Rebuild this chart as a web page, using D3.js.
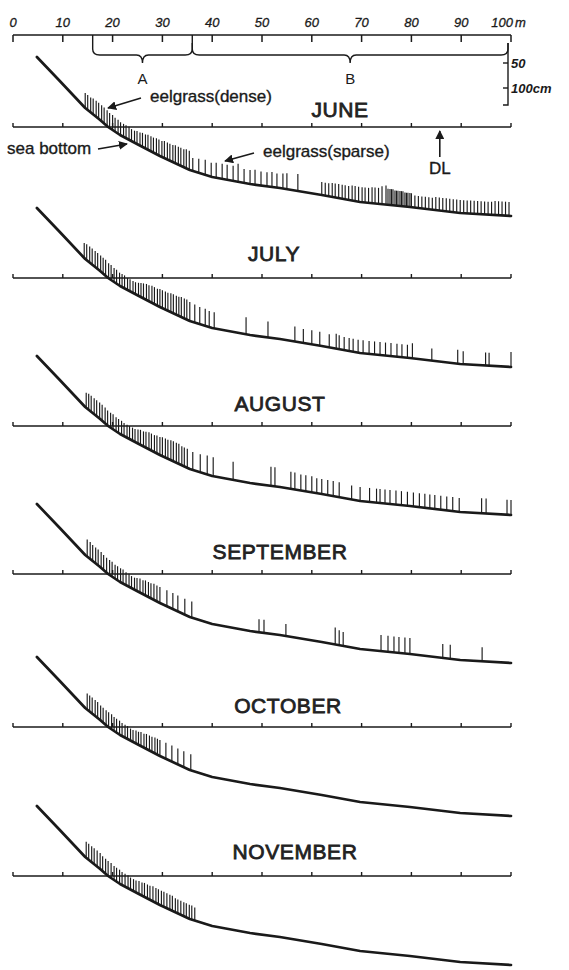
<!DOCTYPE html>
<html>
<head>
<meta charset="utf-8">
<script src="https://cdn.jsdelivr.net/npm/d3@7"></script>
<style>
  html, body { margin: 0; padding: 0; background: #fff; }
  svg { display: block; }
</style>
</head>
<body>
<svg id="fig" width="569" height="970"></svg>
<script>
// ---- distance scale (m) ----
const distTicks = [0, 10, 20, 30, 40, 50, 60, 70, 80, 90, 100];
const distTickLabels = ["0", "10", "20", "30", "40", "50", "60", "70", "80", "90", "100"];
const zoneNames = ["A", "B"];
const zoneStart = [16, 36];
const zoneEnd = [36, 99.4];
const depthTicks = [50, 100];
const depthTickLabels = ["50", "100cm"];

// ---- sea-bottom profile: distance (m) vs depth below datum line (cm) ----
const profileDist  = [4.8, 9.4, 14.5, 17.5, 19.1, 21.5, 24.9, 29.5, 35.5, 40.0, 47.6, 53.6, 62.0, 69.7, 79.7, 89.8, 100];
const profileDepth = [-140, -92, -38, -14, 0, 16, 34, 58, 86, 100, 114, 122, 136, 150, 160, 172, 178];

const months = ["JUNE", "JULY", "AUGUST", "SEPTEMBER", "OCTOBER", "NOVEMBER"];
const dlPosition = 85.7;

// ---- eelgrass shoots: position (m) and shoot length (cm) ----
const junePos = [14.5, 15.0, 15.6, 16.1, 16.7, 17.2, 17.8, 18.3, 18.9, 19.4, 20.0, 20.5, 21.1, 21.6, 22.2, 22.7, 23.3,
  23.8, 24.4, 24.9, 25.5, 26.0, 26.6, 27.1, 27.7, 28.2, 28.8, 29.3, 29.9, 30.4, 31.0, 31.5, 32.1, 32.6, 33.2, 33.7, 34.3, 34.8, 35.4,
  36.1, 37.3, 38.6, 39.8, 40.8, 42.0, 43.0, 44.2, 45.2, 46.4, 47.6, 48.6, 49.8, 51.0, 52.0, 53.0, 54.2, 55.0, 57.2,
  62.0, 62.7, 63.4, 64.1, 64.7, 65.4, 66.1, 66.7, 67.4, 68.1, 68.7, 69.4, 70.1, 70.7, 71.4, 72.1, 72.7, 73.4, 74.1,
  74.9, 75.3, 75.7, 76.0, 76.3, 76.7, 77.0, 77.3, 77.7, 78.0, 78.3, 78.7, 79.0, 79.3, 79.7, 80.0,
  80.7, 81.4, 82.1, 82.8, 83.5, 84.2, 84.9, 85.6, 86.3, 87.0, 87.7, 88.4, 89.1, 89.8, 90.5, 91.2, 91.9, 92.6, 93.3, 94.0,
  94.7, 95.4, 96.1, 96.8, 97.5, 98.2, 98.9, 99.6];
const juneLen = [30, 30, 30, 32, 32, 32, 32, 32, 32, 30, 30, 28, 28, 26, 26, 26, 26,
  24, 24, 26, 26, 28, 28, 30, 30, 30, 32, 32, 32, 34, 34, 34, 34, 36, 36, 36, 36, 38, 38,
  26, 28, 30, 28, 30, 30, 30, 30, 36, 28, 28, 30, 28, 28, 30, 28, 30, 32, 34,
  26, 26, 26, 28, 28, 28, 28, 28, 28, 30, 30, 30, 30, 30, 30, 32, 32, 32, 36,
  38, 32, 32, 32, 32, 30, 30, 30, 30, 30, 30, 28, 28, 28, 28, 28,
  24, 24, 24, 24, 24, 24, 26, 26, 26, 26, 26, 26, 26, 26, 26, 26, 26, 26, 26, 26,
  26, 26, 26, 28, 28, 28, 28, 28];

const julyPos = [14.3, 14.8, 15.4, 15.9, 16.5, 17.0, 17.6, 18.1, 18.6, 19.2, 19.7, 20.3, 20.8, 21.4, 21.9, 22.4, 23.0, 23.5, 24.1,
  24.6, 25.2, 25.7, 26.2, 26.8, 27.3, 27.9, 28.4, 29.0, 29.5, 30.0, 30.6, 31.1, 31.7, 32.2, 32.8, 33.3, 33.8, 34.4, 34.9, 35.5,
  36.5, 37.5, 38.6, 39.4, 40.4,
  46.8, 51.2, 56.6, 58.3, 60.0, 61.6, 63.5, 64.9, 65.5, 66.5, 67.5, 68.3, 69.3, 70.3, 71.5, 72.6, 73.7, 74.8, 75.9, 77.1,
  78.1, 79.2, 80.2, 84.1, 89.3, 90.4, 94.9, 95.6, 100];
const julyLen = [30, 32, 32, 32, 32, 32, 32, 32, 32, 30, 30, 28, 28, 26, 26, 26, 24, 24, 24,
  24, 26, 28, 30, 32, 32, 34, 34, 34, 36, 36, 36, 36, 38, 38, 38, 38, 40, 40, 40, 38,
  36, 34, 34, 32, 32,
  34, 32, 30, 28, 28, 28, 26, 30, 28, 26, 26, 26, 26, 26, 26, 26, 26, 26, 26, 26,
  26, 26, 30, 24, 28, 26, 26, 26, 30];

const augustPos = [14.7, 15.2, 15.7, 16.3, 16.8, 17.4, 17.9, 18.5, 19.0, 19.6, 20.1, 20.7, 21.2, 21.8, 22.3, 22.9, 23.4, 24.0,
  24.5, 25.1, 25.6, 26.2, 26.7, 27.3, 27.8, 28.4, 28.9, 29.5, 30.0, 30.6, 31.1, 31.7, 32.2, 32.8, 33.3, 33.9, 34.4, 35.0,
  36.1, 37.6, 39.0, 40.2,
  44.2, 51.8, 52.6, 55.8, 56.6, 57.8, 58.8, 60.0, 61.0, 62.0, 63.2, 64.3, 65.5, 68.0, 69.7, 71.6, 73.0, 73.7, 74.7, 75.7,
  76.9, 78.0, 79.2, 80.4, 81.6, 82.7, 83.7, 84.7, 85.9, 87.1, 88.3, 89.6, 94.1, 95.0, 99.2, 100];
const augustLen = [30, 32, 32, 32, 32, 32, 32, 32, 30, 30, 30, 28, 28, 28, 26, 26, 26, 26,
  26, 28, 30, 30, 32, 34, 34, 34, 36, 36, 38, 38, 38, 40, 40, 40, 40, 38, 38, 38,
  36, 36, 38, 38,
  36, 38, 38, 34, 34, 32, 32, 32, 30, 30, 30, 30, 30, 28, 28, 28, 28, 28, 28, 28,
  28, 28, 28, 28, 28, 28, 28, 28, 28, 28, 28, 28, 30, 30, 30, 30];

const septemberPos = [14.9, 15.5, 16.0, 16.6, 17.1, 17.7, 18.2, 18.8, 19.4, 19.9, 20.5, 21.0, 21.6, 22.1, 22.7, 23.3,
  23.8, 24.4, 24.9, 25.5, 26.1, 26.6, 27.2, 27.7, 28.3, 28.9,
  29.5, 30.9, 32.1, 33.1, 34.5, 35.9,
  49.4, 50.4, 54.8, 64.7, 65.5, 66.3, 73.9, 75.3, 76.5, 77.5, 78.7, 79.7, 86.3, 87.8, 94.2];
const septemberLen = [34, 34, 32, 32, 32, 32, 30, 30, 30, 30, 28, 28, 28, 28, 26, 26,
  24, 24, 26, 28, 28, 30, 30, 30, 32, 32,
  32, 32, 32, 32, 32, 32,
  26, 26, 24, 34, 30, 28, 32, 32, 32, 32, 32, 32, 28, 28, 28];

const octoberPos = [14.9, 15.4, 15.9, 16.5, 17.0, 17.6, 18.1, 18.7, 19.2, 19.8, 20.3, 20.8, 21.4, 21.9, 22.5, 23.0,
  23.6, 24.1, 24.7, 25.2, 25.7, 26.3, 26.8, 27.4, 27.9, 28.5, 29.0, 29.5,
  30.7, 31.9, 33.1, 34.3, 35.7];
const octoberLen = [32, 32, 32, 32, 32, 30, 30, 30, 30, 30, 28, 28, 28, 26, 26, 26,
  24, 24, 26, 26, 28, 28, 30, 30, 30, 32, 32, 32,
  32, 32, 32, 32, 32];

const novemberPos = [14.7, 15.2, 15.8, 16.3, 16.9, 17.5, 18.0, 18.6, 19.1, 19.7, 20.3, 20.8, 21.4, 21.9, 22.5, 23.1,
  23.6, 24.2, 24.7, 25.3, 25.9, 26.4, 27.0, 27.5, 28.1, 28.7, 29.2, 29.8, 30.3, 30.9, 31.5, 32.0, 32.6, 33.1, 33.7,
  34.3, 34.8, 35.4, 35.9, 36.5];
const novemberLen = [32, 32, 32, 32, 32, 32, 30, 30, 30, 30, 28, 28, 28, 26, 26, 26,
  24, 24, 24, 26, 26, 28, 28, 28, 30, 30, 30, 30, 30, 30, 30, 30, 28, 28, 28,
  28, 28, 28, 28, 26];

const shootPos = [junePos, julyPos, augustPos, septemberPos, octoberPos, novemberPos];
const shootLen = [juneLen, julyLen, augustLen, septemberLen, octoberLen, novemberLen];

// ---- layout ----
const svg = d3.select("#fig");
const ink = "#1a1a1a";
const sans = "Liberation Sans, Arial, Helvetica, sans-serif";
const x = d3.scaleLinear().domain([0, 100]).range([13, 511]);
const cmPx = 0.5;                       // vertical exaggeration: px per cm
const panelBase = [127, 278, 426, 574, 727, 876];
const labelX = [340, 274, 280, 280, 288, 295];
const labelY = [117, 261, 411, 559, 713, 859];
const bottomAt = d3.scaleLinear().domain(profileDist).range(profileDepth).clamp(true);

// ---- top distance scale ----
const scaleG = svg.append("g");
const topY = 35;
scaleG.append("line").attr("x1", x(0)).attr("x2", x(100)).attr("y1", topY).attr("y2", topY)
  .attr("stroke", ink).attr("stroke-width", 1.6);
scaleG.selectAll("line.tk").data(distTicks).join("line").attr("class", "tk")
  .attr("x1", d => x(d)).attr("x2", d => x(d)).attr("y1", topY).attr("y2", topY + 7)
  .attr("stroke", ink).attr("stroke-width", 1.5);
scaleG.selectAll("text.tl").data(distTicks).join("text").attr("class", "tl")
  .attr("x", (d, i) => i === 10 ? x(d) + 2 : x(d)).attr("y", 27)
  .attr("text-anchor", (d, i) => i === 10 ? "end" : "middle")
  .attr("font-family", sans).attr("font-style", "italic")
  .attr("font-size", 13).attr("fill", ink).attr("stroke", ink).attr("stroke-width", 0.3)
  .text((d, i) => distTickLabels[i]);
scaleG.append("text").attr("x", x(100) + 4).attr("y", 27)
  .attr("font-family", sans).attr("font-style", "italic")
  .attr("font-size", 13).attr("fill", ink).attr("stroke", ink).attr("stroke-width", 0.3).text("m");

// zone braces
function brace(x0, x1, y0, yMid, yTip) {
  const xm = (x0 + x1) / 2;
  return `M${x0},${y0} L${x0},${yMid - 6} Q${x0},${yMid} ${x0 + 7},${yMid}` +
    ` L${xm - 6},${yMid} Q${xm},${yMid} ${xm},${yTip}` +
    ` Q${xm},${yMid} ${xm + 6},${yMid} L${x1 - 7},${yMid} Q${x1},${yMid} ${x1},${yMid - 6} L${x1},${y0}`;
}
zoneNames.forEach((n, i) => {
  const x0 = x(zoneStart[i]), x1 = x(zoneEnd[i]);
  scaleG.append("path").attr("d", brace(x0, x1, i === 0 ? topY : topY + 8, 55, 63))
    .attr("fill", "none").attr("stroke", ink).attr("stroke-width", 1.4);
  scaleG.append("text").attr("x", (x0 + x1) / 2).attr("y", 84).attr("text-anchor", "middle")
    .attr("font-family", sans).attr("font-size", 15).attr("fill", ink).text(n);
});

// vertical depth scale
const vx = 508;
scaleG.append("path").attr("d", `M${vx},${topY + 8} L${vx},${topY + 70} L${vx - 5},${topY + 70}`)
  .attr("fill", "none").attr("stroke", ink).attr("stroke-width", 1.4);
depthTicks.forEach((d, i) => {
  const yy = topY + d * cmPx + 3;
  scaleG.append("line").attr("x1", vx - 5).attr("x2", vx).attr("y1", yy).attr("y2", yy)
    .attr("stroke", ink).attr("stroke-width", 1.4);
  scaleG.append("text").attr("x", vx + 3).attr("y", yy + 5)
    .attr("font-family", sans).attr("font-style", "italic")
    .attr("font-weight", "bold").attr("font-size", 13).attr("fill", ink).text(depthTickLabels[i]);
});

// ---- monthly panels ----
months.forEach((m, pi) => {
  const g = svg.append("g");
  const base = panelBase[pi];
  const y = d3.scaleLinear().domain([0, 100]).range([base, base + 100 * cmPx]);

  // datum line with 10 m ticks
  g.append("line").attr("x1", x(0)).attr("x2", x(100)).attr("y1", base).attr("y2", base)
    .attr("stroke", ink).attr("stroke-width", 1.5);
  g.selectAll("line.tk").data(distTicks).join("line").attr("class", "tk")
    .attr("x1", d => x(d)).attr("x2", d => x(d)).attr("y1", base).attr("y2", base - 4)
    .attr("stroke", ink).attr("stroke-width", 1.4);

  // eelgrass shoots
  const shoots = shootPos[pi].map((p, i) => ({ p, len: shootLen[pi][i] }));
  g.selectAll("line.shoot").data(shoots).join("line").attr("class", "shoot")
    .attr("x1", d => x(d.p)).attr("x2", d => x(d.p))
    .attr("y1", d => y(bottomAt(d.p)))
    .attr("y2", d => y(bottomAt(d.p) - d.len))
    .attr("stroke", ink).attr("stroke-width", 1.15);

  // sea bottom
  const line = d3.line().x(d => x(d[0])).y(d => y(d[1]));
  g.append("path").attr("d", line(profileDist.map((d, i) => [d, profileDepth[i]])))
    .attr("fill", "none").attr("stroke", ink).attr("stroke-width", 2.7)
    .attr("stroke-linejoin", "round").attr("stroke-linecap", "round");

  g.append("text").attr("x", labelX[pi]).attr("y", labelY[pi]).attr("text-anchor", "middle")
    .attr("font-family", sans).attr("font-size", 21).attr("letter-spacing", 0.6)
    .attr("fill", "#222").attr("stroke", "#222").attr("stroke-width", 0.8).text(m);
});

// ---- annotations on the first panel ----
const defs = svg.append("defs");
defs.append("marker").attr("id", "head").attr("viewBox", "0 0 10 10").attr("refX", 9).attr("refY", 5)
  .attr("markerWidth", 9).attr("markerHeight", 9).attr("markerUnits", "userSpaceOnUse").attr("orient", "auto")
  .append("path").attr("d", "M0,0 L10,5 L0,10 Z").attr("fill", ink);
const ann = svg.append("g").attr("font-family", sans).attr("fill", ink)
  .attr("font-size", 17).attr("stroke", ink).attr("stroke-width", 0.35);
function arrow(x1, y1, x2, y2) {
  ann.append("line").attr("x1", x1).attr("y1", y1).attr("x2", x2).attr("y2", y2)
    .attr("stroke", ink).attr("stroke-width", 1.6).attr("marker-end", "url(#head)");
}
ann.append("text").attr("x", 150).attr("y", 102).text("eelgrass(dense)");
arrow(141, 98, 108, 108);
ann.append("text").attr("x", 7).attr("y", 154).text("sea bottom");
arrow(98, 149, 127, 144);
ann.append("text").attr("x", 263).attr("y", 157).text("eelgrass(sparse)");
arrow(254, 153, 225, 161);
ann.append("text").attr("x", x(dlPosition)).attr("y", 174).attr("text-anchor", "middle").text("DL");
arrow(x(dlPosition), 157, x(dlPosition), 131);
</script>
</body>
</html>
